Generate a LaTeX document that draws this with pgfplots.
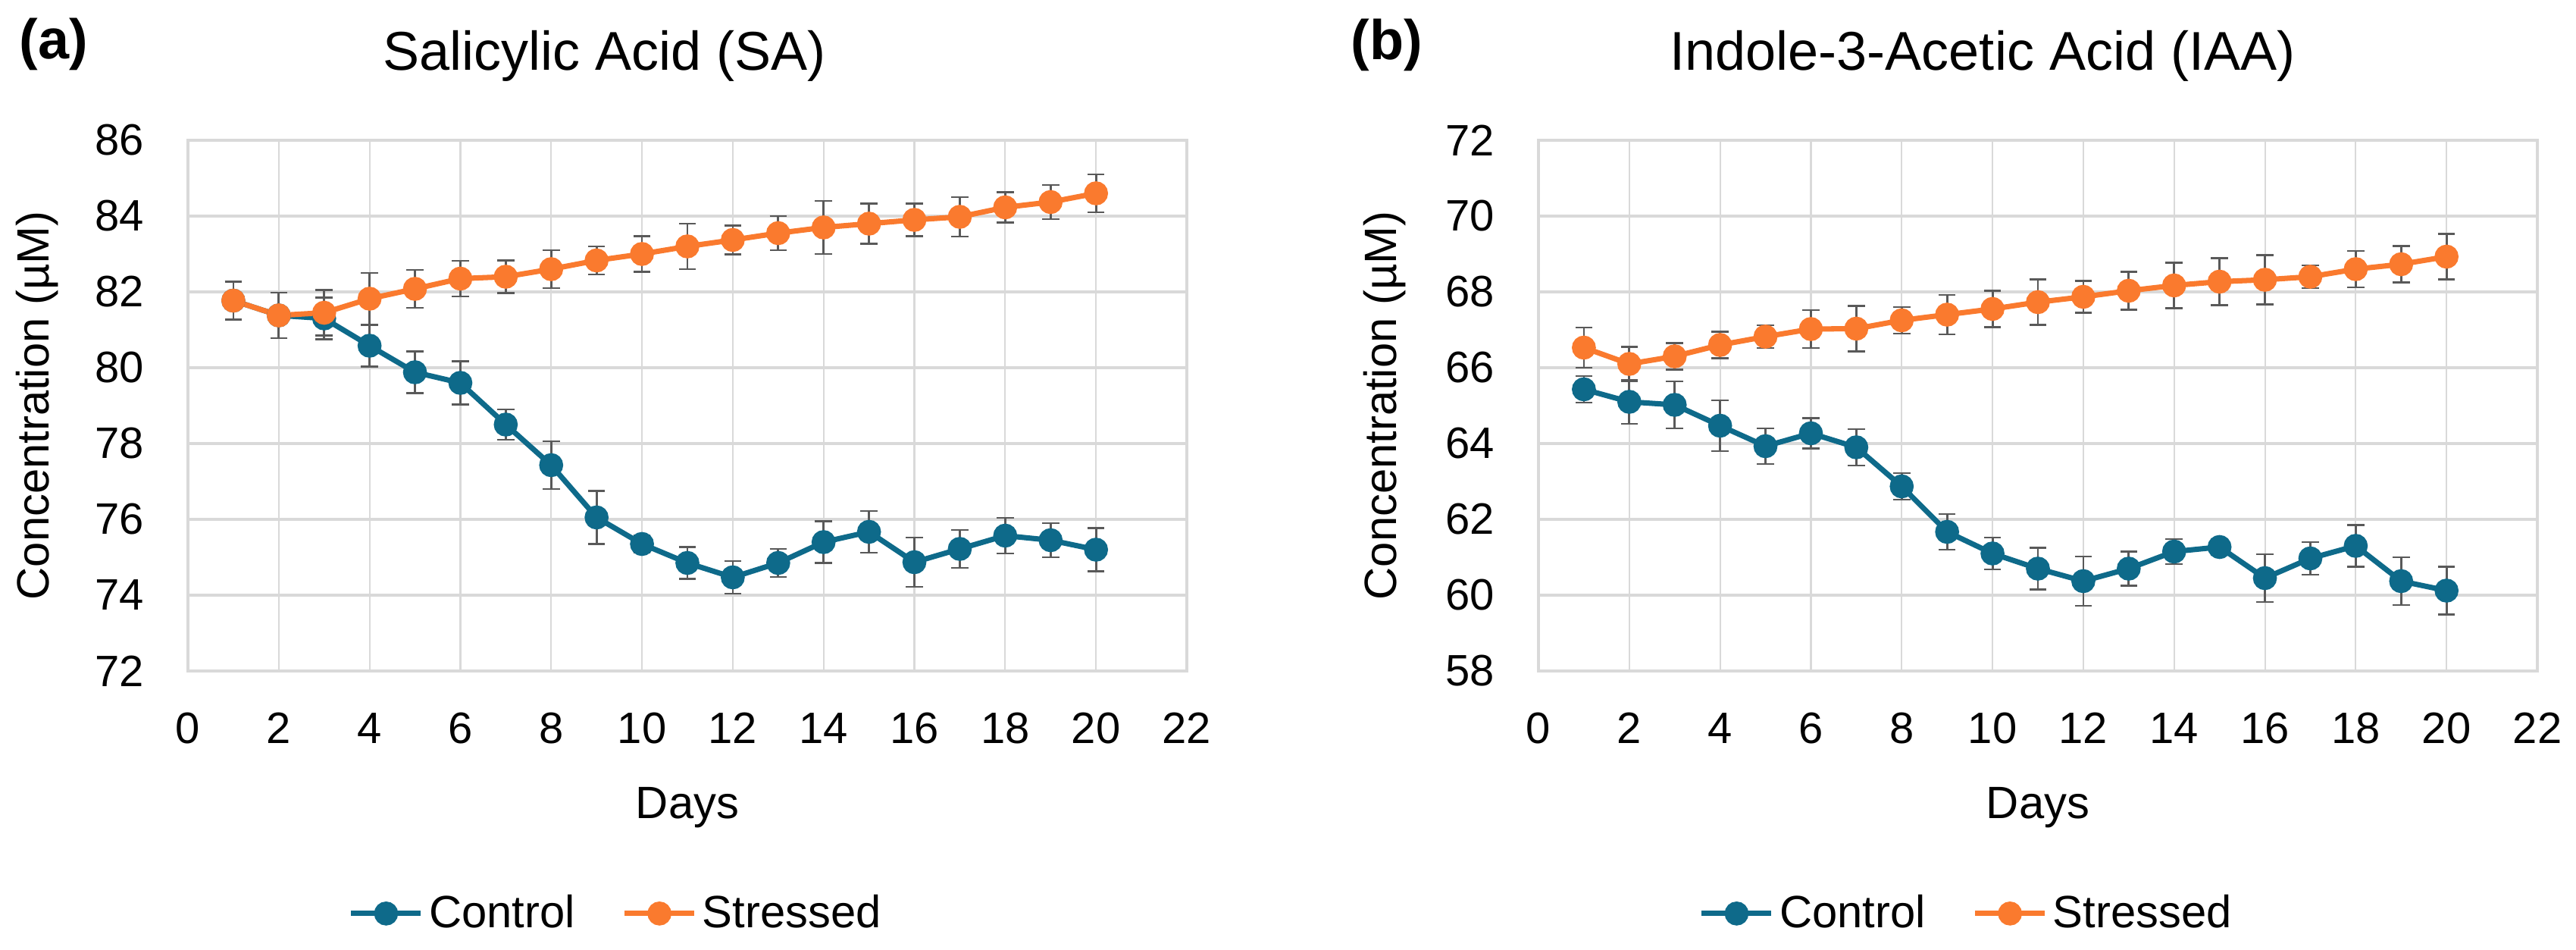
\documentclass[border=0pt]{standalone}
\usepackage{pgfplots}
\pgfplotsset{compat=1.18}
\usepackage{pgfplotstable}
\usepackage{fontspec}
\setmainfont{Liberation Sans}
\definecolor{cblue}{HTML}{0E6A8A}
\definecolor{corange}{HTML}{FA7A2E}
\definecolor{gridgray}{HTML}{D9D9D9}
\definecolor{errgray}{HTML}{595959}

\pgfplotstableread{
x y e
1 81.77 0.50
2 81.38 0.60
3 81.30 0.55
4 80.58 0.55
5 79.88 0.55
6 79.60 0.57
7 78.50 0.40
8 77.43 0.63
9 76.05 0.70
10 75.35 0.22
11 74.85 0.42
12 74.47 0.43
13 74.85 0.37
14 75.40 0.55
15 75.67 0.55
16 74.87 0.65
17 75.22 0.50
18 75.57 0.47
19 75.45 0.45
20 75.20 0.57
}\saC
\pgfplotstableread{
x y e
1 81.77 0.50
2 81.38 0.60
3 81.45 0.60
4 81.82 0.68
5 82.08 0.50
6 82.35 0.47
7 82.40 0.43
8 82.60 0.50
9 82.83 0.37
10 83.00 0.47
11 83.20 0.60
12 83.37 0.38
13 83.55 0.45
14 83.70 0.70
15 83.80 0.53
16 83.90 0.43
17 83.98 0.52
18 84.23 0.40
19 84.37 0.45
20 84.60 0.50
}\saS
\pgfplotstableread{
x y e
1 65.43 0.35
2 65.10 0.58
3 65.02 0.62
4 64.47 0.67
5 63.93 0.47
6 64.27 0.40
7 63.90 0.48
8 62.87 0.35
9 61.67 0.47
10 61.10 0.42
11 60.70 0.55
12 60.37 0.65
13 60.70 0.45
14 61.15 0.33
15 61.27 0.20
16 60.45 0.63
17 60.97 0.43
18 61.30 0.55
19 60.37 0.63
20 60.12 0.63
}\iaaC
\pgfplotstableread{
x y e
1 66.53 0.53
2 66.10 0.45
3 66.30 0.35
4 66.60 0.35
5 66.82 0.30
6 67.02 0.50
7 67.03 0.60
8 67.25 0.35
9 67.40 0.52
10 67.55 0.48
11 67.73 0.60
12 67.87 0.42
13 68.03 0.50
14 68.17 0.60
15 68.27 0.62
16 68.32 0.65
17 68.40 0.30
18 68.60 0.48
19 68.73 0.48
20 68.93 0.60
}\iaaS

\pgfplotsset{
  myaxis/.style={
    scale only axis, width=13.18cm, height=7cm,
    anchor=south west, clip=false,
    xmin=0, xmax=22, xtick={0,2,...,22},
    ytick distance=2,
    grid=major,
    x grid style={gridgray, line width=0.6pt},
    y grid style={gridgray, line width=0.9pt},
    axis line style={gridgray, line width=0.9pt},
    major tick length=0pt,
    /pgf/number format/assume math mode=true,
    ticklabel style={font=\fontsize{16.5}{19}\selectfont},
    xticklabel style={yshift=-0.43cm},
    yticklabel style={xshift=-0.46cm},
    label style={font=\fontsize{17}{20}\selectfont},
    xlabel={Days},
    ylabel={Concentration (µM)},
    xlabel style={at={(axis description cs:0.5,-0.257)}, anchor=center},
    legend style={anchor=center, draw=none, fill=none, legend columns=-1,
      font=\fontsize{17}{20}\selectfont,
      /tikz/every even column/.append style={column sep=0.55cm}},
    legend image code/.code={\draw[#1, mark repeat=2, mark phase=2] plot coordinates {(0cm,0cm) (0.46cm,0cm) (0.92cm,0cm)};},
  },
  ser/.style={#1, line width=2pt, mark=*, mark size=3.5pt,
    mark options={solid, fill=#1, draw=#1},
    error bars/.cd, y dir=both, y explicit,
    error bar style={errgray, line width=0.8pt},
    error mark options={rotate=90, mark size=3.2pt, errgray, line width=0.8pt}},
}

\begin{document}
\begin{tikzpicture}
\useasboundingbox (0,0) rectangle (33.99cm,12.53cm);
\begin{axis}[myaxis, at={(2.48cm,3.68cm)},
  ymin=72, ymax=86,
  ylabel style={at={(axis description cs:-0.151,0.5)}, anchor=center},
  legend style={at={(axis description cs:0.43,-0.457)}}]
\addplot[ser=cblue] table[x=x, y=y, y error=e] {\saC};
\addlegendentry{Control}
\addplot[ser=corange] table[x=x, y=y, y error=e] {\saS};
\addlegendentry{Stressed}
\node[font=\fontsize{20.5}{24}\selectfont, anchor=center] at (axis description cs:0.417,1.159) {Salicylic Acid (SA)};
\node[font=\fontsize{21}{24}\selectfont\bfseries, anchor=center] at (axis description cs:-0.1343,1.181) {(a)};
\end{axis}
\begin{axis}[myaxis, at={(20.30cm,3.68cm)},
  ymin=58, ymax=72,
  ylabel style={at={(axis description cs:-0.154,0.5)}, anchor=center},
  legend style={at={(axis description cs:0.43,-0.457)}}]
\addplot[ser=cblue] table[x=x, y=y, y error=e] {\iaaC};
\addlegendentry{Control}
\addplot[ser=corange] table[x=x, y=y, y error=e] {\iaaS};
\addlegendentry{Stressed}
\node[font=\fontsize{20.5}{24}\selectfont, anchor=center] at (axis description cs:0.4446,1.159) {Indole-3-Acetic Acid (IAA)};
\node[font=\fontsize{21}{24}\selectfont\bfseries, anchor=center] at (axis description cs:-0.1517,1.18) {(b)};
\end{axis}
\end{tikzpicture}
\end{document}
